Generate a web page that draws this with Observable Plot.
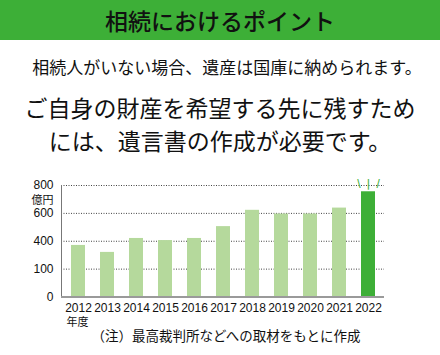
<!DOCTYPE html>
<html><head><meta charset="utf-8">
<script src="https://cdn.jsdelivr.net/npm/d3@7"></script>
<script src="https://cdn.jsdelivr.net/npm/@observablehq/plot@0.6"></script>
<style>
body{margin:0;width:440px;height:355px;position:relative;background:#fff;overflow:hidden;font-family:"Noto Sans CJK JP",sans-serif;color:#111}
#banner{position:absolute;left:0;top:0;width:440px;height:40px;background:#3daf37;text-align:center;line-height:40px;font-size:23px;font-weight:500}
#sub{position:absolute;top:56px;left:7px;width:440px;text-align:center;font-size:17px;line-height:22px}
#main{position:absolute;top:91px;left:0;width:440px;text-align:center;font-size:23px;line-height:33px;font-weight:400}
#chart{position:absolute;top:172px;left:0}
#cap{position:absolute;top:325px;left:6px;width:440px;text-align:center;font-size:13.5px;line-height:20px}
</style></head>
<body>
<div id="banner"></div>
<div id="sub"></div>
<div id="main"></div>
<div id="chart"></div>
<div id="cap"></div>
<script>
const titleText = "相続におけるポイント";
const subText = "相続人がいない場合、遺産は国庫に納められます。";
const mainLines = ["ご自身の財産を希望する先に残すため", "には、遺言書の作成が必要です。"];
const captionText = "（注）最高裁判所などへの取材をもとに作成";

const years = [2012, 2013, 2014, 2015, 2016, 2017, 2018, 2019, 2020, 2021, 2022];
const amounts = [370, 320, 420, 405, 420, 505, 622, 595, 595, 638, 755];
const yTicks = [0, 200, 400, 600, 800];
const yTickLabels = ["0", "100", "400", "600", "800"];
const unitLabel = "億円";
const yearLabel = "年度";
const highlightYear = 2022;

const light = "#b5d99c", dark = "#3daf37";

document.getElementById("banner").textContent = titleText;
document.getElementById("sub").textContent = subText;
document.getElementById("main").innerHTML = mainLines.map(s => `<div>${s}</div>`).join("");
document.getElementById("cap").textContent = captionText;

const data = years.map((year, i) => ({year, amount: amounts[i]}));

const chart = Plot.plot({
  width: 440, height: 160,
  marginLeft: 61, marginRight: 56, marginTop: 13, marginBottom: 35.5,
  style: {fontFamily: "'Liberation Sans Narrow', 'Liberation Sans', sans-serif", fontSize: "12px", color: "#111", background: "transparent"},
  x: {type: "band", domain: years, paddingInner: 0.52, paddingOuter: 0.29, axis: null},
  y: {domain: [0, 800], axis: null},
  marks: [
    Plot.gridY(yTicks.slice(1), {stroke: "#444", strokeOpacity: 1, strokeDasharray: "1,1.5"}),
    Plot.barY(data, {x: "year", y: "amount", fill: d => d.year === highlightYear ? dark : light}),
    Plot.axisY({ticks: yTicks, tickSize: 0, tickPadding: 8, tickFormat: d => yTickLabels[yTicks.indexOf(d)], label: null}),
    Plot.axisX({tickSize: 0, tickPadding: 6, tickFormat: d => String(d), label: null}),
    Plot.frame({anchor: "left", stroke: "#777"}),
    Plot.ruleY([0], {stroke: "#9a9a9a", strokeWidth: 2}),
    Plot.text([unitLabel], {frameAnchor: "top-left", dx: -8, dy: 11, textAnchor: "end", fontFamily: "Noto Sans CJK JP", fontSize: 11}),
    Plot.text(data.filter(d => d.year === years[0]), {x: "year", frameAnchor: "bottom", dy: 29, dx: -1, text: () => yearLabel, fontFamily: "Noto Sans CJK JP", fontSize: 11}),
    Plot.text(data.filter(d => d.year === highlightYear), {x: "year", y: "amount", dy: -8, text: () => "\\  |  /", fill: dark, fontWeight: "bold", fontSize: 10, fontFamily: "'DejaVu Sans Condensed', 'DejaVu Sans', sans-serif"})
  ]
});
document.getElementById("chart").appendChild(chart);
</script>
</body></html>
